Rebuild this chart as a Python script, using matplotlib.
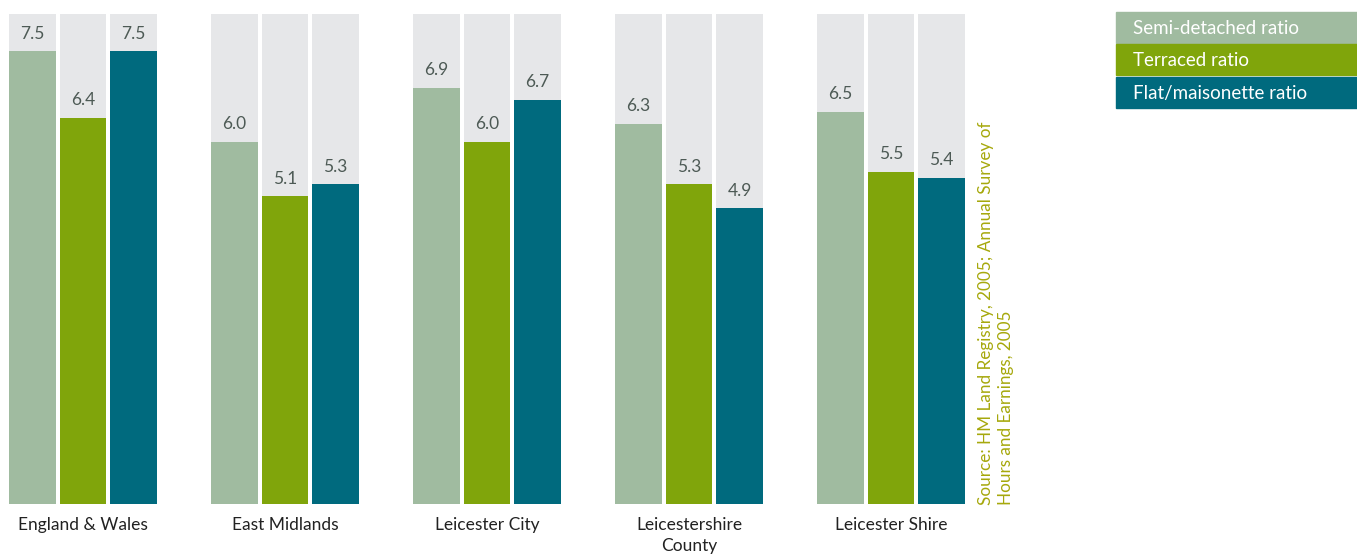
import numpy as np
import matplotlib.pyplot as plt
from matplotlib.patches import Rectangle

# ratios of house price to earnings by dwelling type
areas = ["England & Wales", "East Midlands", "Leicester City",
         "Leicestershire\nCounty", "Leicester Shire"]
semi = [7.5, 6.0, 6.9, 6.3, 6.5]
terraced = [6.4, 5.1, 6.0, 5.3, 5.5]
flat = [7.5, 5.3, 6.7, 4.9, 5.4]
series_names = ["Semi-detached ratio", "Terraced ratio", "Flat/maisonette ratio"]
colors = ["#a0bba0", "#80a50b", "#006a7e"]
bg_top = 8.12

plt.rcParams['font.family'] = ['Lato', 'DejaVu Sans']

W, H = 1357, 557
fig = plt.figure(figsize=(W / 100, H / 100), dpi=100)

# axes placed in pixel terms: plot bottom at y=504, top at y=14
ax_l, ax_r, ax_b, ax_t = 0, 1000, 504, 14
ax = fig.add_axes([ax_l / W, 1 - ax_b / H, (ax_r - ax_l) / W, (ax_b - ax_t) / H])
pitch = 202.0
x0 = 83.0
ax.set_xlim((ax_l - x0) / pitch, (ax_r - x0) / pitch)
ax.set_ylim(0, bg_top)
ax.axis('off')

x = np.arange(len(areas))
width = 0.228
offsets = [-0.25, 0, 0.25]
for vals, off, col in zip([semi, terraced, flat], offsets, colors):
    ax.bar(x + off, [bg_top] * len(x), width, color="#e6e7e9", zorder=1)
    ax.bar(x + off, vals, width, color=col, zorder=2)
    for xi, v in zip(x, vals):
        ax.text(xi + off, v + 0.16, f"{v:.1f}", ha='center', va='bottom',
                fontsize=12.5, color="#4d5a55", zorder=3)

for xi, name in zip(x, areas):
    ax.text(xi, -0.22, name, ha='center', va='top', fontsize=12.5,
            color="#222222", linespacing=1.4, clip_on=False)

# legend as stacked coloured boxes
box_l, box_w = 1116, 241
box_tops = [12, 44, 77]
box_h = 31
for top, col, name in zip(box_tops, colors, series_names):
    fig.patches.append(Rectangle((box_l / W, 1 - (top + box_h) / H), box_w / W, box_h / H,
                                 transform=fig.transFigure, color=col))
    fig.text((box_l + 17) / W, 1 - (top + box_h / 2 + 1) / H, name, ha='left', va='center',
             fontsize=13.5, color="white")

fig.text(996 / W, 1 - 505 / H,
         "Source: HM Land Registry, 2005; Annual Survey of\nHours and Earnings, 2005",
         rotation=90, ha='center', va='bottom', fontsize=12.3, color="#a6a80c",
         linespacing=1.25, multialignment='left')

fig.savefig("out.png", dpi=100)
